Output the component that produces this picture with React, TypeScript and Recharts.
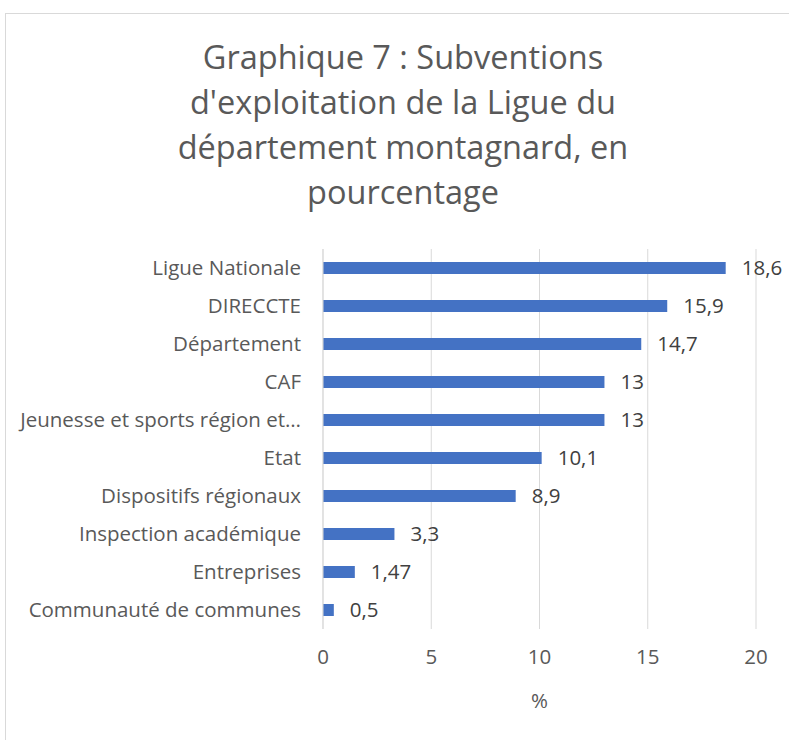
import React from "react";
import { BarChart, Bar, XAxis, YAxis, CartesianGrid, LabelList } from "recharts";

const categories = [
  "Ligue Nationale",
  "DIRECCTE",
  "Département",
  "CAF",
  "Jeunesse et sports région et…",
  "Etat",
  "Dispositifs régionaux",
  "Inspection académique",
  "Entreprises",
  "Communauté de communes",
];
const values = [18.6, 15.9, 14.7, 13, 13, 10.1, 8.9, 3.3, 1.47, 0.5];
const xTicks = [0, 5, 10, 15, 20];
const titleLines = [
  "Graphique 7 : Subventions",
  "d'exploitation de la Ligue du",
  "département montagnard, en",
  "pourcentage",
];

const data = categories.map((c, i) => ({ name: c, value: values[i] }));
const FONT = "'Open Sans', sans-serif";
const FS = 20.5;

export default function App() {
  return (
    <div style={{ position: "fixed", left: 0, top: 0, width: 789, height: 740, overflow: "hidden", background: "#fff" }}>
      <div style={{ position: "absolute", left: 5, top: 13, width: 900, height: 900, border: "1px solid #d9d9d9" }} />
      <div style={{ position: "absolute", left: 0, top: 34, width: 806, textAlign: "center", fontFamily: FONT, fontSize: 32.5, lineHeight: "45px", color: "#595959" }}>
        {titleLines.map((l) => (
          <div key={l}>{l}</div>
        ))}
      </div>
      <div style={{ position: "absolute", left: 0, top: 0 }}>
        <BarChart
          width={789}
          height={740}
          data={data}
          layout="vertical"
          margin={{ top: 249, right: 33, bottom: 26, left: 0 }}
          barCategoryGap={13}
        >
          <CartesianGrid horizontal={false} vertical={true} stroke="#d9d9d9" />
          <XAxis
            type="number"
            domain={[0, 20]}
            ticks={xTicks}
            axisLine={false}
            tickLine={false}
            tickSize={0}
            tickMargin={20}
            height={85}
            tick={{ fontFamily: FONT, fontSize: FS, fill: "#595959" }}
            label={{ value: "%", position: "insideBottom", offset: 6, style: { fontFamily: FONT, fontSize: FS, fill: "#595959" } }}
          />
          <YAxis
            type="category"
            dataKey="name"
            width={323}
            axisLine={{ stroke: "#d9d9d9" }}
            tickLine={false}
            tickSize={0}
            tickMargin={22}
            interval={0}
            tick={{ fontFamily: FONT, fontSize: FS, fill: "#595959" }}
          />
          <Bar dataKey="value" fill="#4472C4" barSize={12} isAnimationActive={false}>
            <LabelList
              dataKey="value"
              position="right"
              offset={16}
              formatter={(v: any) => String(v).replace(".", ",")}
              style={{ fontFamily: FONT, fontSize: FS, fill: "#404040" }}
            />
          </Bar>
        </BarChart>
      </div>
    </div>
  );
}
